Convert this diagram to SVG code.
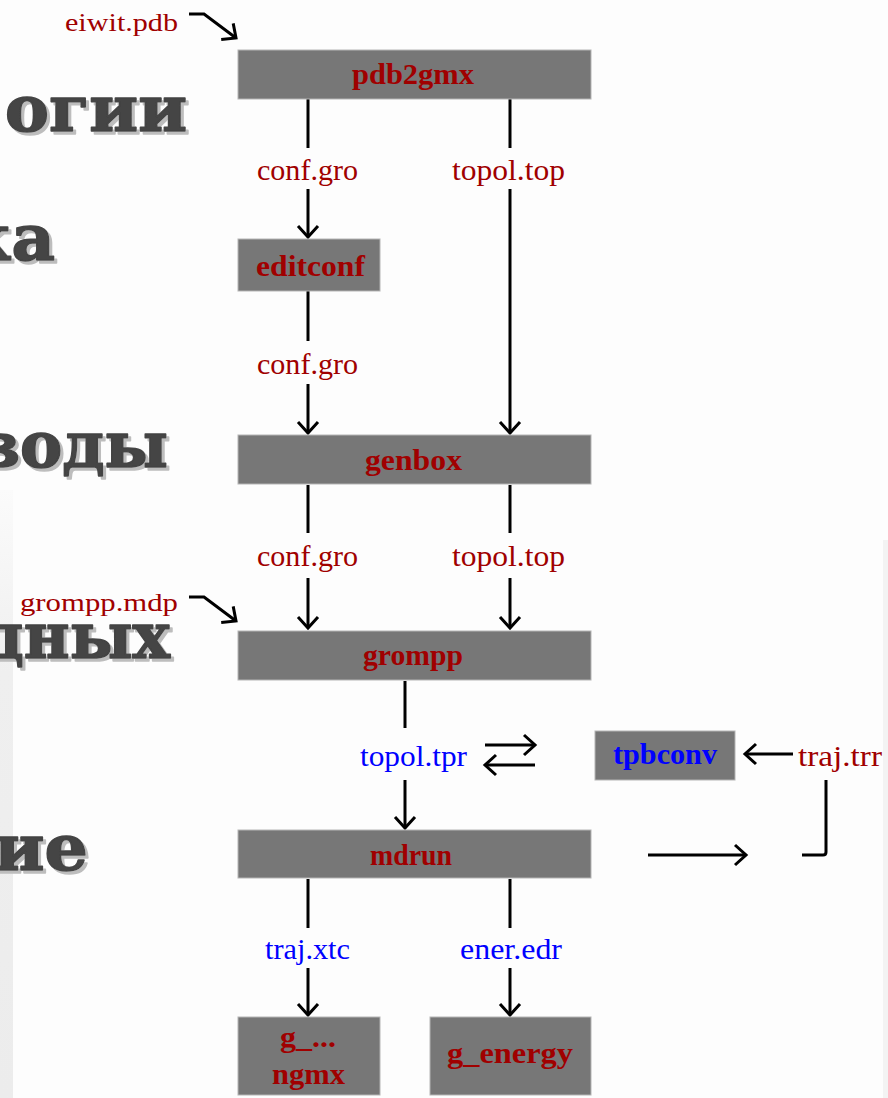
<svg xmlns="http://www.w3.org/2000/svg" width="888" height="1098" viewBox="0 0 888 1098">
  <defs>
    <marker id="chev" markerUnits="userSpaceOnUse" viewBox="-14 -12 16 24" markerWidth="16" markerHeight="24" refX="0" refY="0" orient="auto" overflow="visible">
      <path d="M-11,-10 L0,0 L-11,10" fill="none" stroke="#000" stroke-width="3" stroke-linejoin="miter"/>
    </marker>
    <linearGradient id="edge" x1="0" y1="0" x2="0" y2="1">
      <stop offset="0" stop-color="#fbfbfb"/>
      <stop offset="0.3" stop-color="#efefef"/>
      <stop offset="1" stop-color="#ececec"/>
    </linearGradient>
    <!-- light grey drop shadow under the slide headings -->
    <filter id="headShadow" x="-10%" y="-20%" width="130%" height="150%">
      <feOffset in="SourceAlpha" dx="3" dy="3" result="off"/>
      <feFlood flood-color="#bdbdbd"/>
      <feComposite in2="off" operator="in" result="shadow"/>
      <feMerge>
        <feMergeNode in="shadow"/>
        <feMergeNode in="SourceGraphic"/>
      </feMerge>
    </filter>
    <style>
      .bg-title { font-family: "DejaVu Serif", serif; font-weight: bold; font-size: 64px; fill: #444444; stroke: #444444; stroke-width: 1.6; stroke-linejoin: round; filter: url(#headShadow); }
      .node rect { fill: #777777; stroke: #b5b5b5; stroke-width: 1; }
      .nlabel { font-family: "Liberation Serif", "Times New Roman", serif; font-weight: bold; font-size: 30px; }
      .flabel { font-family: "Liberation Serif", "Times New Roman", serif; font-size: 30px; }
      .side { font-family: "Liberation Serif", "Times New Roman", serif; font-size: 25px; }
      .red { fill: #a00000; }
      .blue { fill: #0000ff; }
      #connectors path, #connectors line { fill: none; stroke: #000; stroke-width: 3; }
      .arr { marker-end: url(#chev); }
    </style>
  </defs>

  <!-- page background -->
  <rect x="0" y="0" width="888" height="1098" fill="#fdfdfd"/>
  <rect x="0" y="490" width="13" height="608" fill="url(#edge)"/>
  <rect x="883" y="540" width="5" height="558" fill="#f3f3f3"/>

  <!-- slide headings running off the left edge -->
  <g id="headings">
    <text class="bg-title" x="5" y="131" textLength="182" lengthAdjust="spacingAndGlyphs">огии</text>
    <text class="bg-title" x="-37" y="260" textLength="92" lengthAdjust="spacingAndGlyphs">ка</text>
    <text class="bg-title" x="-24" y="467" textLength="192" lengthAdjust="spacingAndGlyphs">воды</text>
    <text class="bg-title" x="-18" y="658" textLength="188" lengthAdjust="spacingAndGlyphs">дных</text>
    <text class="bg-title" x="-6" y="870" textLength="94" lengthAdjust="spacingAndGlyphs">ие</text>
  </g>

  <!-- connectors -->
  <g id="connectors">
    <path class="arr" d="M189,14 H204 L236,38"/>
    <path class="arr" d="M189,597 H204 L236,621"/>
    <line x1="308" y1="99" x2="308" y2="148"/>
    <line class="arr" x1="308" y1="189" x2="308" y2="237"/>
    <line x1="510" y1="99" x2="510" y2="148"/>
    <line class="arr" x1="510" y1="189" x2="510" y2="433"/>
    <line x1="308" y1="291" x2="308" y2="341"/>
    <line class="arr" x1="308" y1="384" x2="308" y2="433"/>
    <line x1="308" y1="485" x2="308" y2="533"/>
    <line class="arr" x1="308" y1="578" x2="308" y2="628"/>
    <line x1="510" y1="485" x2="510" y2="533"/>
    <line class="arr" x1="510" y1="578" x2="510" y2="628"/>
    <line x1="405" y1="681" x2="405" y2="728"/>
    <line class="arr" x1="405" y1="780" x2="405" y2="828"/>
    <line class="arr" x1="485" y1="745" x2="535" y2="745"/>
    <line class="arr" x1="535" y1="765" x2="485" y2="765"/>
    <line class="arr" x1="793" y1="754" x2="745" y2="754"/>
    <line class="arr" x1="648" y1="855" x2="746" y2="855"/>
    <path d="M826,780 V852 Q826,855 823,855 H802"/>
    <line x1="308" y1="879" x2="308" y2="928"/>
    <line class="arr" x1="308" y1="968" x2="308" y2="1015"/>
    <line x1="510" y1="879" x2="510" y2="928"/>
    <line class="arr" x1="510" y1="968" x2="510" y2="1015"/>
  </g>

  <!-- file labels -->
  <g id="files">
    <text class="side red" x="65" y="31" textLength="113" lengthAdjust="spacingAndGlyphs">eiwit.pdb</text>
    <text class="side red" x="20" y="611" textLength="158" lengthAdjust="spacingAndGlyphs">grompp.mdp</text>
    <text class="flabel red" x="257" y="180" textLength="101" lengthAdjust="spacingAndGlyphs">conf.gro</text>
    <text class="flabel red" x="452" y="180" textLength="113" lengthAdjust="spacingAndGlyphs">topol.top</text>
    <text class="flabel red" x="257" y="374" textLength="101" lengthAdjust="spacingAndGlyphs">conf.gro</text>
    <text class="flabel red" x="257" y="566" textLength="101" lengthAdjust="spacingAndGlyphs">conf.gro</text>
    <text class="flabel red" x="452" y="566" textLength="113" lengthAdjust="spacingAndGlyphs">topol.top</text>
    <text class="flabel blue" x="360" y="766" textLength="107" lengthAdjust="spacingAndGlyphs">topol.tpr</text>
    <text class="flabel red" x="798" y="766" textLength="84" lengthAdjust="spacingAndGlyphs">traj.trr</text>
    <text class="flabel blue" x="265" y="959" textLength="85" lengthAdjust="spacingAndGlyphs">traj.xtc</text>
    <text class="flabel blue" x="460" y="959" textLength="102" lengthAdjust="spacingAndGlyphs">ener.edr</text>
  </g>

  <!-- programs -->
  <g id="pdb2gmx" class="node">
    <rect x="238" y="50" width="353" height="49"/>
    <text class="nlabel red" x="352" y="84" textLength="122" lengthAdjust="spacingAndGlyphs">pdb2gmx</text>
  </g>
  <g id="editconf" class="node">
    <rect x="238" y="239" width="142" height="52"/>
    <text class="nlabel red" x="256" y="276" textLength="109" lengthAdjust="spacingAndGlyphs">editconf</text>
  </g>
  <g id="genbox" class="node">
    <rect x="238" y="435" width="353" height="49"/>
    <text class="nlabel red" x="365" y="470" textLength="97" lengthAdjust="spacingAndGlyphs">genbox</text>
  </g>
  <g id="grompp" class="node">
    <rect x="238" y="631" width="353" height="49"/>
    <text class="nlabel red" x="363" y="665" textLength="100" lengthAdjust="spacingAndGlyphs">grompp</text>
  </g>
  <g id="tpbconv" class="node">
    <rect x="595" y="731" width="140" height="49"/>
    <text class="nlabel blue" x="613" y="764" textLength="104" lengthAdjust="spacingAndGlyphs">tpbconv</text>
  </g>
  <g id="mdrun" class="node">
    <rect x="238" y="830" width="353" height="48"/>
    <text class="nlabel red" x="370" y="865" textLength="82" lengthAdjust="spacingAndGlyphs">mdrun</text>
  </g>
  <g id="g_ngmx" class="node">
    <rect x="238" y="1017" width="142" height="78"/>
    <text class="nlabel red" x="280" y="1047" textLength="56" lengthAdjust="spacingAndGlyphs">g_...</text>
    <text class="nlabel red" x="272" y="1084" textLength="73" lengthAdjust="spacingAndGlyphs">ngmx</text>
  </g>
  <g id="g_energy" class="node">
    <rect x="430" y="1017" width="161" height="78"/>
    <text class="nlabel red" x="447" y="1063" textLength="126" lengthAdjust="spacingAndGlyphs">g_energy</text>
  </g>
</svg>
